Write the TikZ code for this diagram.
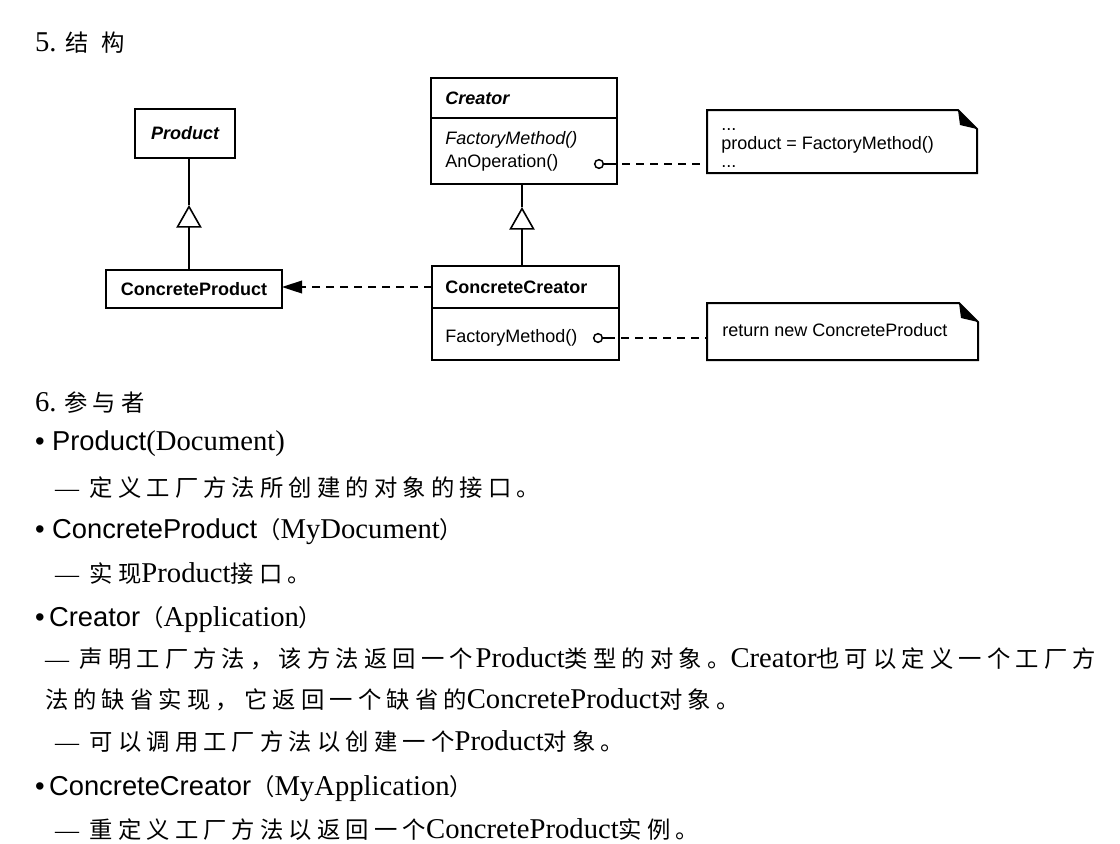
\documentclass[tikz,border=0pt]{standalone}
\usepackage{fontspec}
\setmainfont{Liberation Serif}
\setsansfont{Liberation Sans}
\newfontfamily\cjk[LetterSpace=22]{Noto Sans CJK SC}
\newfontfamily\cjkn{Noto Sans CJK SC}
\usetikzlibrary{arrows.meta,calc}
\newcommand\lat[1]{{\rmfamily\fontsize{21.5}{24}\selectfont #1}}
\newcommand\hdr[1]{{\sffamily\fontsize{20.5}{23}\selectfont #1}}
\newcommand\zh[1]{{\cjk\fontsize{17.5}{20}\selectfont #1}}
\newcommand\zhn[1]{{\cjkn\fontsize{17.5}{20}\selectfont #1}}
\newcommand\dash{{\rmfamily\fontsize{18}{20}\selectfont —}\hspace{8pt}}
\tikzset{
  txt/.style={anchor=base west, inner sep=0pt, outer sep=0pt},
  cls/.style={draw, line width=1.5pt, inner sep=0pt, outer sep=0pt},
  dtxt/.style={anchor=west, inner sep=0pt, font=\sffamily\fontsize{13.5}{16}\selectfont},
  btxt/.style={anchor=base west, inner sep=0pt, font=\sffamily\fontsize{13.5}{16}\selectfont},
  conn/.style={line width=1.2pt},
  dep/.style={line width=1.2pt, dash pattern=on 6pt off 4.5pt},
  inh/.style={line width=1.2pt, -{Triangle[open, length=17pt, width=19pt, line width=1.2pt]}},
  depend/.style={-{Triangle[length=15pt, width=9.5pt]}},
  opdot/.style={circle, draw, line width=1.1pt, inner sep=0pt, minimum size=6.5pt},
  note/.style={inner sep=0pt, outer sep=0pt},
  noteline/.style={line width=1.5pt, line join=miter},
}
\begin{document}
\begin{tikzpicture}[x=0.75pt, y=-0.75pt]
\useasboundingbox (0,0) rectangle (1120,843);
\fill[white] (0,0) rectangle (1120,843);

% ---------- heading ----------
\node[txt] (h5) at (35,51) {\lat{5.}\hspace{7pt}\zhn{结}\hspace{9pt}\zhn{构}};

% ---------- class boxes ----------
\node[cls, minimum width=75pt, minimum height=36.75pt] (prod) at (185,133.5) {};
\node[dtxt, anchor=center, font=\sffamily\bfseries\itshape\fontsize{13.5}{16}\selectfont] (prodt) at (prod.center) {Product};

\node[cls, minimum width=132pt, minimum height=28.5pt] (cp) at (194,289) {};
\node[dtxt, anchor=center, font=\sffamily\bfseries\fontsize{13.5}{16}\selectfont] (cpt) at (cp.center) {ConcreteProduct};

\node[cls, minimum width=139.5pt, minimum height=30pt] (crn) at (524,98) {};
\node[cls, minimum width=139.5pt, minimum height=49.5pt] (cro) at (524,151) {};
\node[dtxt, font=\sffamily\bfseries\itshape\fontsize{13.5}{16}\selectfont] (crt) at (445,98) {Creator};
\node[dtxt, font=\sffamily\itshape\fontsize{13.5}{16}\selectfont] (crf) at (445,140) {FactoryMethod()};
\node[dtxt] (cra) at (445,163) {AnOperation()};

\node[cls, minimum width=140.25pt, minimum height=31.5pt] (ccn) at (525.5,287) {};
\node[cls, minimum width=140.25pt, minimum height=39pt] (cco) at (525.5,334) {};
\node[dtxt, font=\sffamily\bfseries\fontsize{13.5}{16}\selectfont] (cct) at (445,287) {ConcreteCreator};
\node[dtxt] (ccf) at (445,338) {FactoryMethod()};

% ---------- notes ----------
\node[note, minimum width=202.5pt, minimum height=47.25pt] (n1) at (842,141.5) {};
\draw[noteline, fill=white] (n1.north west) -- ($(n1.north east)+(-19,0)$) -- ($(n1.north east)+(0,19)$) -- (n1.south east) -- (n1.south west) -- cycle;
\fill ($(n1.north east)+(-19,0)$) -- ($(n1.north east)+(-17,15)$) -- ($(n1.north east)+(0,19)$) -- cycle;
\node[btxt] (n1a) at (721,130) {...};
\node[btxt] (n1b) at (721,149) {product = FactoryMethod()};
\node[btxt] (n1c) at (721,167) {...};

\node[note, minimum width=203.25pt, minimum height=42.75pt] (n2) at (842.5,331.5) {};
\draw[noteline, fill=white] (n2.north west) -- ($(n2.north east)+(-19,0)$) -- ($(n2.north east)+(0,19)$) -- (n2.south east) -- (n2.south west) -- cycle;
\fill ($(n2.north east)+(-19,0)$) -- ($(n2.north east)+(-17,15)$) -- ($(n2.north east)+(0,19)$) -- cycle;
\node[dtxt] (n2a) at (722,330) {return new ConcreteProduct};

% ---------- connectors ----------
\coordinate (ia) at (189,205);
\draw[inh] (cp.north -| ia) -- (ia);
\draw[conn] (ia) -- (prod.south -| ia);

\coordinate (ib) at (522,207);
\draw[inh] (ccn.north -| ib) -- (ib);
\draw[conn] (ib) -- (cro.south -| ib);

\draw[dep, depend] (ccn.west) -- (ccn.west -| cp.east);

\node[opdot] (d1) at (599,164) {};
\draw[conn] (d1.east) -- ++(4,0) coordinate (d1e);
\draw[dep] (d1e) -- (d1e -| n1.west);
\node[opdot] (d2) at (598,338) {};
\draw[conn] (d2.east) -- ++(4,0) coordinate (d2e);
\draw[dep] (d2e) -- (d2e -| n2.west);

% ---------- participants ----------
\node[txt] (h6) at (35,411) {\lat{6.}\hspace{6pt}\zh{参与者}};
\node[txt] (p1) at (35,450) {\hdr{•\ Product}\lat{(Document)}};
\node[txt] (p1d) at (55,496) {\dash\zh{定义工厂方法所创建的对象的接口。}};
\node[txt] (p2) at (35,538) {\hdr{•\ ConcreteProduct}\zh{（}\lat{MyDocument}\zh{）}};
\node[txt] (p2d) at (55,582) {\dash\zh{实现}\lat{Product}\zh{接口。}};
\node[txt] (p3) at (35,626) {\hdr{•\,Creator}\zh{（}\lat{Application}\zh{）}};
\node[txt] (p3d) at (45,667) {\dash\zh{声明工厂方法，该方法返回一个}\hspace{2pt}\lat{Product}\zh{类型的对象。}\lat{Creator}\zh{也可以定义一个工厂方}};
\node[txt] (p3e) at (45,708) {\zh{法的缺省实现，它返回一个缺省的}\lat{ConcreteProduct}\zh{对象。}};
\node[txt] (p3f) at (55,750) {\dash\zh{可以调用工厂方法以创建一个}\lat{Product}\zh{对象。}};
\node[txt] (p4) at (35,795) {\hdr{•\,ConcreteCreator}\zh{（}\lat{MyApplication}\zh{）}};
\node[txt] (p4d) at (55,838) {\dash\zh{重定义工厂方法以返回一个}\lat{ConcreteProduct}\zh{实例。}};
\end{tikzpicture}
\end{document}
